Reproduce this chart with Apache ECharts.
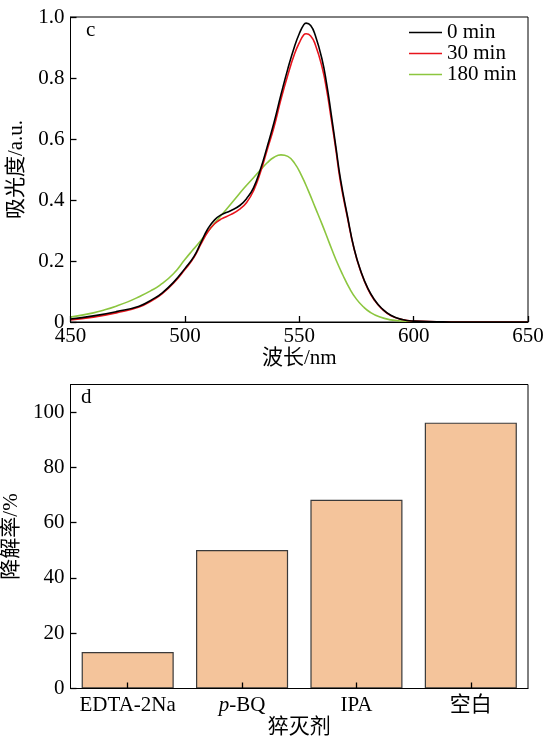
<!DOCTYPE html>
<html>
<head>
<meta charset="utf-8">
<script src="https://cdn.jsdelivr.net/npm/echarts@6/dist/echarts.min.js"></script>
<style>
html,body{margin:0;padding:0;background:#fff;}
#chart{width:545px;height:737px;}
</style>
</head>
<body>
<div id="chart"></div>
<script>
// ---- Panel c: absorption spectra ----
var seriesNames = ['0 min', '30 min', '180 min'];
var spec0 = [[450,0.010],[460,0.020],[470,0.034],[480,0.052],[486,0.075],[490,0.095],[495,0.13],[500,0.175],[504,0.215],[507,0.26],[510,0.305],[513,0.335],[516,0.352],[520,0.365],[524,0.382],[527,0.405],[530,0.44],[533,0.50],[536,0.575],[539,0.655],[542,0.745],[545,0.83],[548,0.905],[550,0.945],[552,0.975],[553,0.98],[555,0.972],[557,0.94],[560,0.86],[562,0.78],[564,0.68],[566,0.575],[568,0.47],[571,0.35],[574,0.24],[577,0.165],[580,0.11],[583,0.072],[586,0.045],[590,0.022],[595,0.008],[600,0.003],[610,0.001],[620,0],[650,0]];
var spec30 = [[450,0.007],[460,0.016],[470,0.030],[480,0.049],[486,0.072],[490,0.092],[495,0.127],[500,0.172],[504,0.212],[507,0.255],[510,0.295],[513,0.322],[516,0.338],[520,0.352],[524,0.37],[527,0.392],[530,0.43],[533,0.49],[536,0.565],[539,0.64],[542,0.73],[545,0.81],[548,0.88],[550,0.915],[552,0.942],[553,0.945],[555,0.938],[557,0.91],[560,0.835],[562,0.76],[564,0.665],[566,0.565],[568,0.46],[571,0.345],[574,0.238],[577,0.163],[580,0.108],[583,0.07],[586,0.044],[590,0.021],[595,0.008],[600,0.003],[610,0.001],[620,0],[650,0]];
var spec180 = [[450,0.016],[460,0.030],[465,0.040],[470,0.052],[475,0.066],[480,0.083],[485,0.102],[489,0.12],[495,0.158],[500,0.205],[503,0.232],[506,0.258],[510,0.296],[514,0.333],[518,0.368],[522,0.404],[526,0.44],[530,0.473],[533,0.498],[536,0.522],[539,0.54],[542,0.548],[545,0.543],[548,0.52],[551,0.48],[554,0.43],[557,0.375],[560,0.32],[563,0.262],[566,0.205],[569,0.155],[572,0.11],[575,0.075],[578,0.05],[581,0.032],[585,0.017],[590,0.007],[595,0.003],[600,0.001],[610,0],[650,0]];

// ---- Panel d: degradation rate with scavengers ----
var scavengers = ['EDTA-2Na', 'p-BQ', 'IPA', '空白'];
var degradation = [13.2, 50.1, 68.3, 96.2];

var FONT = '"Liberation Serif", "Noto Sans CJK SC", serif';
var FS = 21;
var lineColors = ['#000000', '#e8141c', '#8cc63f'];

var chart = echarts.init(document.getElementById('chart'), null, {renderer: 'canvas'});

function axisCommon() {
  return {
    z: 10,
    axisLine: {show: true, lineStyle: {color: '#000', width: 1}},
    axisTick: {show: true, inside: true, length: 6, lineStyle: {color: '#000', width: 1.3}},
    splitLine: {show: false},
    axisLabel: {color: '#000', fontFamily: FONT, fontSize: FS},
    nameTextStyle: {color: '#000', fontFamily: FONT, fontSize: FS}
  };
}

var xTop = Object.assign(axisCommon(), {
  type: 'value', gridIndex: 0, min: 450, max: 650, interval: 50,
  name: '波长/nm', nameLocation: 'middle', nameGap: 24
});
xTop.axisLabel.margin = 4;

var yTop = Object.assign(axisCommon(), {
  type: 'value', gridIndex: 0, min: 0, max: 1, interval: 0.2,
  name: '吸光度/a.u.', nameLocation: 'middle', nameGap: 40, nameRotate: 90
});
yTop.axisLabel.margin = 6;
yTop.axisLabel.formatter = function (v) { return v === 0 ? '0' : v.toFixed(1); };

var xBot = Object.assign(axisCommon(), {
  type: 'category', gridIndex: 1, data: scavengers,
  name: '猝灭剂', nameLocation: 'middle', nameGap: 28
});
xBot.axisTick.alignWithLabel = true;
xBot.axisTick.interval = 0;
xBot.axisLabel.margin = 6;
xBot.axisLabel.interval = 0;
xBot.axisLabel.formatter = function (v) {
  return v === 'p-BQ' ? '{i|p}-BQ' : v;
};
xBot.axisLabel.rich = {i: {fontStyle: 'italic', fontFamily: FONT, fontSize: FS, color: '#000'}};

var yBot = Object.assign(axisCommon(), {
  type: 'value', gridIndex: 1, min: 0, max: 110, interval: 20,
  name: '降解率/%', nameLocation: 'middle', nameGap: 40, nameRotate: 90
});
yBot.axisLabel.margin = 6;
yBot.axisLabel.showMaxLabel = false;

var specs = [spec0, spec30, spec180];
var series = specs.map(function (d, i) {
  return {
    name: seriesNames[i], type: 'line', xAxisIndex: 0, yAxisIndex: 0,
    data: d, smooth: 0.5, symbol: 'none', z: 5 - i,
    lineStyle: {color: lineColors[i], width: 1.6},
    itemStyle: {color: lineColors[i]}
  };
});
series.push({
  type: 'bar', xAxisIndex: 1, yAxisIndex: 1, data: degradation,
  barCategoryGap: '19.5%',
  itemStyle: {color: '#f4c49b', borderColor: '#3a3a3a', borderWidth: 1.2}
});

chart.setOption({
  animation: false,
  backgroundColor: '#fff',
  grid: [
    {left: 70.5, right: 17, top: 17, height: 305, show: true, borderColor: '#000', borderWidth: 1, backgroundColor: 'transparent', outerBoundsMode: 'none', containLabel: false},
    {left: 70.5, right: 17, top: 384.5, height: 304, show: true, borderColor: '#000', borderWidth: 1, backgroundColor: 'transparent', outerBoundsMode: 'none', containLabel: false}
  ],
  xAxis: [xTop, xBot],
  yAxis: [yTop, yBot],
  legend: {
    data: seriesNames, orient: 'vertical', left: 409, top: 22, padding: 0,
    icon: 'rect', itemWidth: 33, itemHeight: 1.5, itemGap: 0,
    textStyle: {color: '#000', fontFamily: FONT, fontSize: FS, lineHeight: 20.5}
  },
  graphic: [
    {type: 'text', left: 86, top: 20, style: {text: 'c', font: '21px "Liberation Serif", serif', fill: '#000'}},
    {type: 'text', left: 81, top: 387, style: {text: 'd', font: '21px "Liberation Serif", serif', fill: '#000'}}
  ],
  series: series
});
</script>
</body>
</html>
